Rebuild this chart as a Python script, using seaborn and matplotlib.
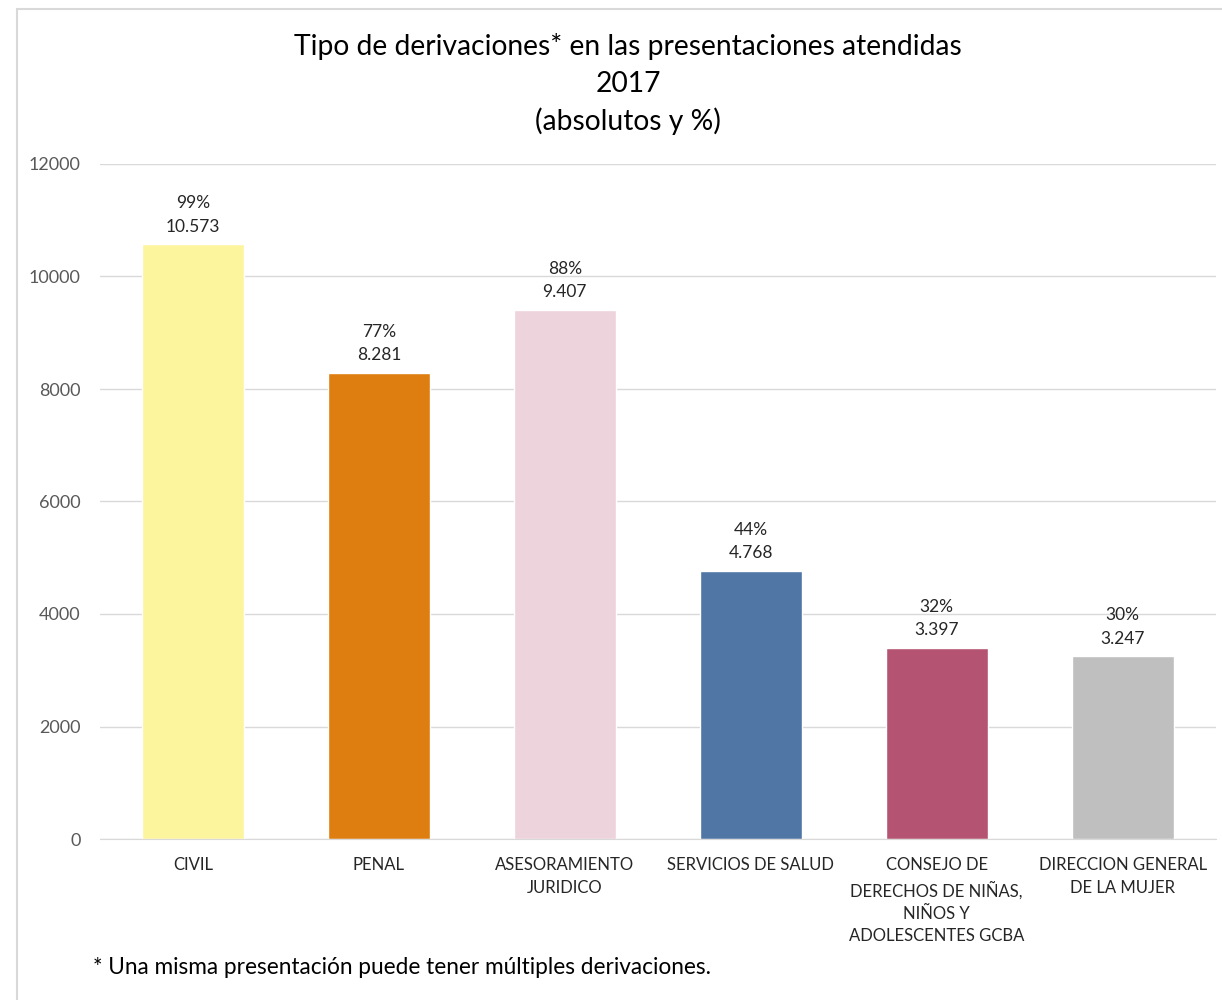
import matplotlib
matplotlib.use("Agg")
import matplotlib.pyplot as plt
import seaborn as sns
import pandas as pd
from matplotlib.patches import Rectangle

# Data
categorias = ["CIVIL", "PENAL", "ASESORAMIENTO\nJURIDICO", "SERVICIOS DE SALUD",
              "CONSEJO DE\nDERECHOS DE NIÑAS,\nNIÑOS Y\nADOLESCENTES GCBA",
              "DIRECCION GENERAL\nDE LA MUJER"]
valores = [10573, 8281, 9407, 4768, 3397, 3247]
porcentajes = ["99%", "77%", "88%", "44%", "32%", "30%"]
colores = ["#FCF59E", "#DE7E10", "#EDD3DC", "#5076A6", "#B55472", "#BFBFBF"]

df = pd.DataFrame({"categoria": categorias, "valor": valores})

sns.set_style("white")
plt.rcParams["font.family"] = ["Lato", "DejaVu Sans"]

fig = plt.figure(figsize=(12.22, 10), dpi=100)
ax = fig.add_axes([0.0818, 0.161, 0.913, 0.675])

sns.barplot(data=df, x="categoria", y="valor", hue="categoria",
            palette=dict(zip(categorias, colores)), width=0.55,
            legend=False, saturation=1, ax=ax)

ax.set_ylim(0, 12000)
ax.set_xlim(-0.5, 5.5)
ax.set_yticks(range(0, 12001, 2000))
ax.yaxis.grid(True, color="#D9D9D9", linewidth=1)
ax.set_axisbelow(True)
for s in ["top", "right", "left"]:
    ax.spines[s].set_visible(False)
ax.spines["bottom"].set_color("#D9D9D9")
ax.tick_params(axis="y", length=0, labelsize=13, labelcolor="#595959", pad=14)
ax.tick_params(axis="x", length=0, labelsize=12, labelcolor="#262626", pad=13)
for lbl in ax.get_xticklabels():
    lbl.set_linespacing(1.5)
ax.set_xlabel("")
ax.set_ylabel("")

# value labels: percentage over the absolute number (dot as thousands separator)
for i, (v, p) in enumerate(zip(valores, porcentajes)):
    txt = p + "\n" + f"{v:,}".replace(",", ".")
    ax.annotate(txt, (i, v), xytext=(0, 7), textcoords="offset points",
                ha="center", va="bottom", fontsize=12.5, color="#262626",
                linespacing=1.55)

fig.text(0.514, 0.967, "Tipo de derivaciones* en las presentaciones atendidas\n2017\n(absolutos y %)",
         ha="center", va="top", fontsize=20.3, color="#000000", linespacing=1.5)

fig.text(0.076, 0.032, "* Una misma presentación puede tener múltiples derivaciones.",
         ha="left", va="center", fontsize=16.3, color="#000000")

fig.patches.append(Rectangle((0.014, -0.01), 1.0, 1.001, transform=fig.transFigure,
                             fill=False, edgecolor="#D9D9D9", linewidth=1.5))

fig.savefig("out.png", dpi=100)
